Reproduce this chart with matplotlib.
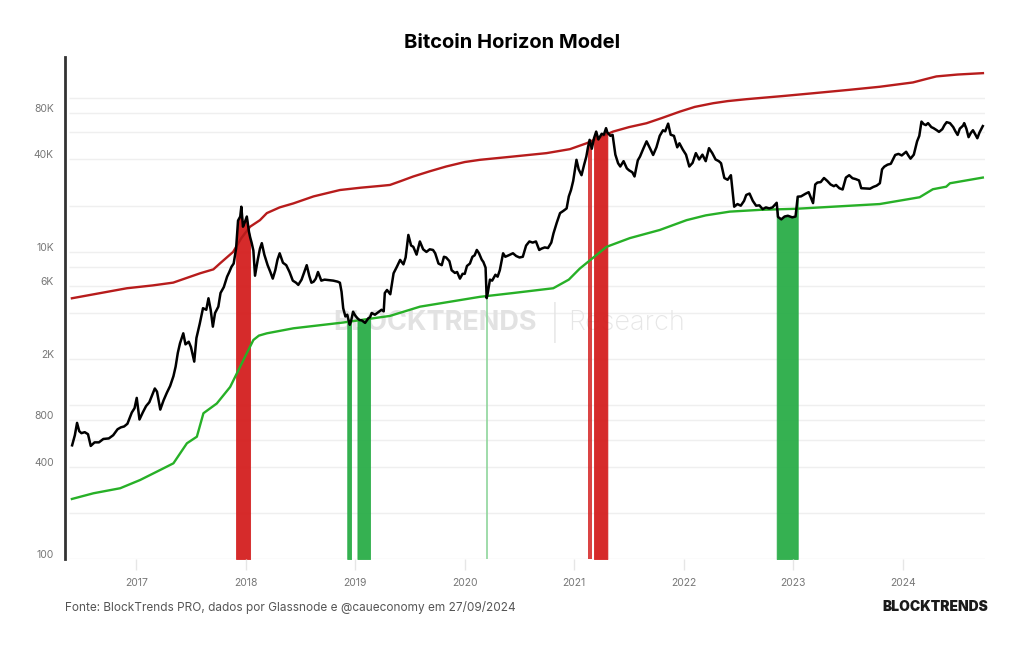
import matplotlib
matplotlib.use("Agg")

import matplotlib.pyplot as plt
import matplotlib.transforms as mtransforms
from matplotlib.ticker import FixedLocator, NullLocator

# -----------------------------------
# DATA (decimal year, USD)
# -----------------------------------

btc_2016 = [
    (2016.415, 550), (2016.44, 640), (2016.46, 770), (2016.48, 680), (2016.50, 660),
    (2016.53, 670), (2016.56, 650), (2016.585, 545), (2016.62, 575), (2016.66, 575),
    (2016.70, 605), (2016.75, 610), (2016.79, 640), (2016.83, 700), (2016.86, 720),
    (2016.89, 730), (2016.92, 760), (2016.96, 900), (2016.985, 960),
]
btc_2017 = [
    (2017.005, 1120), (2017.03, 810), (2017.06, 900), (2017.09, 990), (2017.12, 1050),
    (2017.15, 1190), (2017.17, 1290), (2017.19, 1230), (2017.22, 940), (2017.25, 1080),
    (2017.28, 1210), (2017.31, 1340), (2017.34, 1550), (2017.36, 1790), (2017.38, 2200),
    (2017.40, 2540), (2017.43, 2950), (2017.45, 2500), (2017.48, 2600), (2017.50, 2400),
    (2017.53, 1930), (2017.55, 2750), (2017.58, 3400), (2017.61, 4300), (2017.64, 4200),
    (2017.66, 4990), (2017.68, 4200), (2017.70, 3260), (2017.72, 4000), (2017.75, 4400),
    (2017.77, 5400), (2017.80, 5900), (2017.83, 6900), (2017.85, 7400), (2017.87, 8000),
    (2017.89, 8400), (2017.912, 10500), (2017.93, 16000), (2017.95, 17000), (2017.96, 19700),
    (2017.975, 14600), (2017.99, 15500),
]
btc_2018 = [
    (2018.01, 17000), (2018.03, 13500), (2018.04, 12500), (2018.055, 11400), (2018.07, 10200),
    (2018.085, 7000), (2018.11, 8900), (2018.13, 10500), (2018.147, 11400), (2018.17, 9600),
    (2018.20, 8200), (2018.225, 7400), (2018.247, 6700), (2018.27, 7600), (2018.29, 8900),
    (2018.31, 9800), (2018.34, 8500), (2018.37, 8200), (2018.40, 7400), (2018.43, 6500),
    (2018.46, 6300), (2018.48, 6100), (2018.51, 6600), (2018.535, 7400), (2018.557, 8200),
    (2018.58, 7000), (2018.60, 6300), (2018.62, 6400), (2018.64, 6700), (2018.66, 7400),
    (2018.69, 6500), (2018.72, 6600), (2018.76, 6550), (2018.80, 6500), (2018.84, 6400),
    (2018.86, 6300), (2018.875, 5500), (2018.89, 4300), (2018.91, 3800), (2018.927, 3900),
    (2018.95, 3350), (2018.962, 3550), (2018.98, 4080),
]
btc_2019 = [
    (2019.00, 3850), (2019.02, 3700), (2019.04, 3600), (2019.06, 3580), (2019.09, 3450),
    (2019.12, 3700), (2019.135, 3750), (2019.15, 4000), (2019.18, 3900), (2019.21, 4050),
    (2019.24, 4200), (2019.26, 4100), (2019.27, 5400), (2019.29, 5650), (2019.32, 5300),
    (2019.35, 7260), (2019.38, 8000), (2019.41, 8870), (2019.44, 8300), (2019.46, 9200),
    (2019.485, 12900), (2019.51, 11000), (2019.53, 10800), (2019.56, 9600), (2019.59, 11700),
    (2019.62, 10400), (2019.65, 10000), (2019.68, 10400), (2019.71, 10300), (2019.73, 9800),
    (2019.76, 8400), (2019.79, 8200), (2019.81, 9300), (2019.83, 9200), (2019.86, 8700),
    (2019.88, 7600), (2019.91, 7300), (2019.93, 7400), (2019.956, 6700), (2019.98, 7200),
]
btc_2020 = [
    (2020.00, 7200), (2020.02, 8100), (2020.047, 8400), (2020.07, 9300), (2020.09, 9500),
    (2020.11, 10300), (2020.13, 9800), (2020.155, 8900), (2020.17, 8600), (2020.19, 7900),
    (2020.20, 5000), (2020.21, 5400), (2020.23, 6600), (2020.25, 6500), (2020.28, 7100),
    (2020.30, 6900), (2020.32, 7600), (2020.35, 9800), (2020.37, 9300), (2020.40, 9500),
    (2020.44, 9800), (2020.47, 9400), (2020.50, 9200), (2020.53, 9300), (2020.56, 11000),
    (2020.59, 11700), (2020.62, 11500), (2020.65, 11700), (2020.68, 10300), (2020.70, 10500),
    (2020.73, 10700), (2020.76, 10600), (2020.79, 11500), (2020.81, 13200), (2020.84, 15500),
    (2020.87, 17900), (2020.90, 18500), (2020.93, 19200), (2020.95, 23000), (2020.97, 25300),
    (2020.99, 29000),
]
btc_2021 = [
    (2021.02, 39800), (2021.04, 34500), (2021.066, 31600), (2021.09, 37000), (2021.11, 41800),
    (2021.125, 48000), (2021.14, 53700), (2021.16, 47000), (2021.18, 55000), (2021.20, 60800),
    (2021.22, 54000), (2021.25, 58800), (2021.27, 58000), (2021.29, 64000), (2021.302, 60000),
    (2021.33, 57000), (2021.35, 57800), (2021.375, 43000), (2021.40, 37800), (2021.42, 36000),
    (2021.45, 39000), (2021.48, 35000), (2021.50, 34000), (2021.53, 33000), (2021.55, 31000),
    (2021.58, 39500), (2021.60, 41800), (2021.63, 47000), (2021.66, 52500), (2021.69, 47500),
    (2021.72, 42800), (2021.75, 48000), (2021.78, 57000), (2021.81, 62000), (2021.83, 61000),
    (2021.857, 68500), (2021.88, 58000), (2021.91, 57000), (2021.94, 48000), (2021.96, 51000),
    (2021.99, 46500),
]
btc_2022 = [
    (2022.02, 43000), (2022.05, 36000), (2022.08, 38000), (2022.11, 44000), (2022.14, 40000),
    (2022.17, 43000), (2022.20, 39000), (2022.23, 47400), (2022.26, 44000), (2022.29, 40000),
    (2022.32, 39000), (2022.34, 37800), (2022.37, 30300), (2022.40, 29500), (2022.43, 31600),
    (2022.46, 19700), (2022.49, 20500), (2022.52, 20000), (2022.55, 21500), (2022.57, 23500),
    (2022.60, 24000), (2022.63, 21500), (2022.66, 20000), (2022.69, 20100), (2022.72, 19000),
    (2022.75, 19500), (2022.78, 19200), (2022.81, 19500), (2022.848, 20900), (2022.86, 16900),
    (2022.89, 16300), (2022.92, 17000), (2022.95, 17200), (2022.99, 16800),
]
btc_2023 = [
    (2023.02, 17000), (2023.04, 22900), (2023.07, 23000), (2023.11, 23900), (2023.14, 24500),
    (2023.18, 20800), (2023.20, 27500), (2023.22, 28300), (2023.25, 28500), (2023.28, 30300),
    (2023.31, 29000), (2023.34, 27500), (2023.37, 26800), (2023.39, 27300), (2023.42, 26000),
    (2023.45, 25500), (2023.48, 30500), (2023.51, 31600), (2023.54, 30200), (2023.57, 29800),
    (2023.60, 29200), (2023.62, 26000), (2023.67, 25900), (2023.70, 25800), (2023.73, 26500),
    (2023.76, 27000), (2023.79, 28000), (2023.81, 34500), (2023.83, 35900), (2023.86, 37000),
    (2023.89, 37500), (2023.93, 42800), (2023.96, 43500), (2023.99, 42500),
]
btc_2024 = [
    (2024.03, 44900), (2024.05, 42500), (2024.07, 40500), (2024.10, 43000), (2024.13, 52500),
    (2024.15, 57000), (2024.17, 70600), (2024.19, 68000), (2024.21, 67000), (2024.23, 69000),
    (2024.26, 65000), (2024.28, 64000), (2024.31, 62000), (2024.33, 60500), (2024.36, 63000),
    (2024.38, 67000), (2024.40, 70000), (2024.43, 69000), (2024.46, 65000), (2024.48, 61000),
    (2024.50, 57800), (2024.52, 63500), (2024.55, 66500), (2024.56, 69000), (2024.58, 63500),
    (2024.60, 55900), (2024.62, 59500), (2024.64, 62000), (2024.66, 58500), (2024.68, 55000),
    (2024.70, 60000), (2024.73, 66000),
]

upper_year = [2016.413, 2016.915, 2017.15, 2017.338, 2017.584, 2017.705, 2017.766, 2017.885,
              2017.96, 2018.04, 2018.13, 2018.193, 2018.31, 2018.435, 2018.62, 2018.86,
              2019.05, 2019.226, 2019.317, 2019.42, 2019.53, 2019.68, 2019.83, 2020.0,
              2020.139, 2020.44, 2020.747, 2020.96, 2021.112, 2021.2, 2021.355, 2021.5,
              2021.66, 2021.8, 2021.964, 2022.1, 2022.268, 2022.4, 2022.572, 2022.9,
              2023.18, 2023.5, 2023.788, 2024.092, 2024.2, 2024.306, 2024.5, 2024.731]
upper_usd = [4990, 5800, 6050, 6310, 7260, 7700, 8430, 10000,
             12300, 14600, 16100, 17900, 19500, 20700, 23000, 25300,
             26200, 26900, 27300, 29000, 31000, 33500, 36000, 38500,
             39800, 41800, 44000, 46700, 51000, 54500, 60800, 65000,
             68900, 74500, 82000, 88000, 93000, 96000, 98800, 103500,
             108000, 113500, 119000, 127000, 133000, 139000, 143000, 146000]

lower_year = [2016.413, 2016.61, 2016.854, 2017.036, 2017.219, 2017.34, 2017.463, 2017.554,
              2017.614, 2017.736, 2017.858, 2017.964, 2018.07, 2018.12, 2018.193, 2018.435,
              2018.891, 2019.317, 2019.591, 2020.139, 2020.443, 2020.808, 2020.95, 2021.051,
              2021.295, 2021.507, 2021.781, 2022.025, 2022.2, 2022.42, 2022.7, 2023.028,
              2023.788, 2024.153, 2024.274, 2024.396, 2024.43, 2024.73]
lower_usd = [246, 268, 289, 327, 380, 420, 567, 626,
             890, 1030, 1320, 1880, 2670, 2850, 2950, 3180,
             3470, 3830, 4400, 5100, 5400, 5800, 6600, 7800,
             10800, 12300, 13900, 16100, 17300, 18300, 18800, 19100,
             20500, 22700, 25600, 26600, 28000, 30500]

# signal periods: price above the red line / below the green line
red_bands = [(2017.912, 2018.04), (2021.18, 2021.302)]
red_spikes = [(2021.136, 52000), (2021.151, 53500)]
green_bands = [(2018.927, 2018.962), (2019.02, 2019.135), (2022.848, 2023.04)]
green_spikes = [(2020.20, 5000)]

year_ticks = [2017, 2018, 2019, 2020, 2021, 2022, 2023, 2024]
grid_values = [100, 200, 400, 600, 800, 1000, 2000, 4000, 6000, 8000,
               10000, 20000, 40000, 60000, 80000, 100000]
y_labels = {100: "100", 400: "400", 800: "800", 2000: "2K", 6000: "6K",
            10000: "10K", 40000: "40K", 80000: "80K"}

# -----------------------------------
# FIGURE
# -----------------------------------

plt.rcParams["font.family"] = ["Inter", "DejaVu Sans"]

fig = plt.figure(figsize=(10.24, 6.45), dpi=100)
ax = fig.add_axes([65 / 1024, 86 / 645, 920 / 1024, 502 / 645])

btc = btc_2016 + btc_2017 + btc_2018 + btc_2019 + btc_2020 + btc_2021 + btc_2022 + btc_2023 + btc_2024
px = [p[0] for p in btc]
py = [p[1] for p in btc]

RED_FILL = "#d41f1f"
GREEN_FILL = "#2aad48"

for a, b in red_bands:
    mask = [a <= x <= b for x in px]
    ax.fill_between(px, 100, py, where=mask, color=RED_FILL, lw=0.6, edgecolor=RED_FILL,
                    alpha=0.95, zorder=1)
for x, top in red_spikes:
    ax.vlines(x, 100, top, color=RED_FILL, lw=1.2, zorder=1)

for a, b in green_bands:
    mask = [a <= x <= b for x in px]
    ax.fill_between(px, 100, py, where=mask, color=GREEN_FILL, lw=0.6, edgecolor=GREEN_FILL,
                    alpha=0.95, zorder=1)
for x, top in green_spikes:
    ax.vlines(x, 100, top, color="#8fd59c", lw=1.2, zorder=1)

ax.plot(upper_year, upper_usd, color="#b71c1c", lw=1.7, zorder=2)
ax.plot(lower_year, lower_usd, color="#27b027", lw=1.7, zorder=2)
ax.plot(px, py, color="black", lw=1.8, zorder=3)

# -----------------------------------
# AXES
# -----------------------------------

ax.set_yscale("log")
ax.set_ylim(100, 186000)
ax.set_xlim(2016.35, 2024.75)

ax.hlines(grid_values, 2016.39, 2024.75, color="#efefef", lw=1, zorder=0)

ax.yaxis.set_major_locator(FixedLocator(grid_values))
ax.yaxis.set_minor_locator(NullLocator())
ax.set_yticklabels([y_labels.get(v, "") for v in grid_values])
ax.tick_params(axis="y", length=0, pad=8, labelsize=7.5, labelcolor="#777777")
shift = mtransforms.ScaledTranslation(0, 5 / 100, fig.dpi_scale_trans)
for lbl in ax.get_yticklabels():
    lbl.set_transform(lbl.get_transform() + shift)

ax.set_xticks(year_ticks)
ax.set_xticklabels([str(y) for y in year_ticks])
ax.tick_params(axis="x", length=8, width=1, color="#e6e6e6", pad=6,
               labelsize=7.5, labelcolor="#777777")

for side in ["top", "right", "bottom"]:
    ax.spines[side].set_visible(False)
ax.spines["left"].set_color("#333333")
ax.spines["left"].set_linewidth(2)

# watermark
ax.text(537 / 1024, 0.5, "BLOCKTRENDS", transform=fig.transFigure, ha="right", va="center",
        fontsize=19.5, fontweight="bold", color="#e2e2e2", zorder=0.5)
ax.text(555 / 1024, 0.5, "|", transform=fig.transFigure, ha="center", va="center",
        fontsize=24, fontweight="light", color="#e4e4e4", zorder=0.5)
ax.text(568 / 1024, 0.5, "Research", transform=fig.transFigure, ha="left", va="center",
        fontsize=19.5, fontweight="light", color="#e6e6e6", zorder=0.5)

# -----------------------------------
# TITLE AND FOOTER
# -----------------------------------

fig.text(0.5, 602 / 645, "Bitcoin Horizon Model", ha="center", va="center",
         fontsize=14.5, fontweight="bold", color="black")
fig.text(65 / 1024, 38 / 645, "Fonte: BlockTrends PRO, dados por Glassnode e @caueconomy em 27/09/2024",
         ha="left", va="center", fontsize=8.5, color="#555555")
fig.text(988 / 1024, 38 / 645, "BLOCKTRENDS", ha="right", va="center",
         fontsize=10, fontweight="black", color="#1a1a1a")

fig.savefig("out.png", dpi=100, facecolor="white")
